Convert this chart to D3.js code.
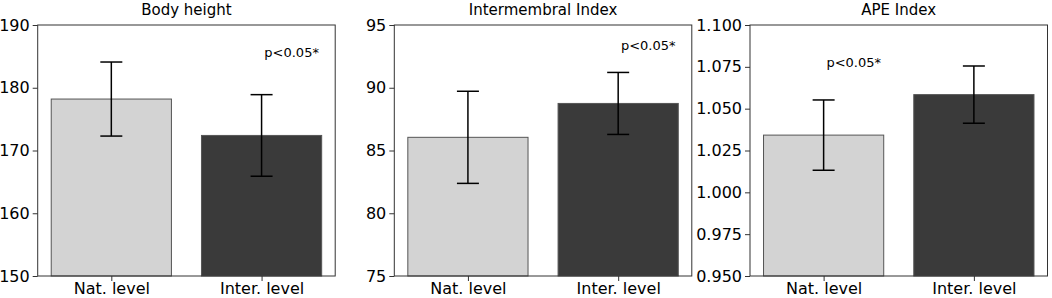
<!DOCTYPE html>
<html lang="en">
<head>
    <meta charset="UTF-8">
    <title> Level comparison </title>
    <script type="text/javascript" src="https://cdn.jsdelivr.net/npm/d3@7"></script>
    <style type="text/css">
        body { margin: 0; background: #fff; }
        text { font-family: "DejaVu Sans", sans-serif; }
    </style>
</head>
<body>
    <script type="text/javascript">
        //Data
        var categories = ["Nat. level", "Inter. level"];
        var titles = ["Body height", "Intermembral Index", "APE Index"];
        var means = [[178.2, 172.4], [86.05, 88.75], [1.0342, 1.0584]];
        var errors = [[5.9, 6.5], [3.67, 2.47], [0.021, 0.0171]];
        var yDomains = [[150, 190], [75, 95], [0.95, 1.1]];
        var yTicks = [
            [150, 160, 170, 180, 190],
            [75, 80, 85, 90, 95],
            [0.95, 0.975, 1.0, 1.025, 1.05, 1.075, 1.1]
        ];
        var tickFormats = ["d", "d", ".3f"];
        var pText = "p<0.05*";
        var pPos = [[1.2, 185.7], [1.2, 93.35], [0.2, 1.0775]];
        var barColors = ["#d3d3d3", "#3a3a3a"];

        //Width and height
        var w = 1052;
        var h = 298;
        var panelLeft = [37.7, 394.3, 750];
        var panelW = 297.5;
        var plotTop = 25;
        var plotBottom = 276;

        var svg = d3.select("body")
            .append("svg")
            .attr("width", w)
            .attr("height", h);

        titles.forEach(function(title, i) {
            var g = svg.append("g")
                .attr("transform", "translate(" + panelLeft[i] + ",0)");

            var xScale = d3.scaleLinear()
                .domain([-0.49, 1.49])
                .range([0, panelW]);

            var yScale = d3.scaleLinear()
                .domain(yDomains[i])
                .range([plotBottom, plotTop]);

            var barW = xScale(0.8) - xScale(0);

            //Bars
            g.selectAll("rect.bar")
                .data(means[i])
                .enter()
                .append("rect")
                .attr("class", "bar")
                .attr("x", function(d, j) { return xScale(j) - barW / 2; })
                .attr("y", function(d) { return yScale(d); })
                .attr("width", barW)
                .attr("height", function(d) { return plotBottom - yScale(d); })
                .attr("fill", function(d, j) { return barColors[j]; })
                .attr("stroke", "#555")
                .attr("stroke-width", 1);

            //Error bars
            var capW = 11;
            means[i].forEach(function(m, j) {
                var e = errors[i][j];
                var cx = xScale(j);
                g.append("line")
                    .attr("x1", cx).attr("x2", cx)
                    .attr("y1", yScale(m - e)).attr("y2", yScale(m + e))
                    .attr("stroke", "#000").attr("stroke-width", 1.5);
                [m - e, m + e].forEach(function(v) {
                    g.append("line")
                        .attr("x1", cx - capW).attr("x2", cx + capW)
                        .attr("y1", yScale(v)).attr("y2", yScale(v))
                        .attr("stroke", "#000").attr("stroke-width", 1.5);
                });
            });

            //Frame
            g.append("rect")
                .attr("x", 0).attr("y", plotTop)
                .attr("width", panelW).attr("height", plotBottom - plotTop)
                .attr("fill", "none")
                .attr("stroke", "#333")
                .attr("stroke-width", 1);

            //Y axis
            var yAxis = d3.axisLeft(yScale)
                .tickValues(yTicks[i])
                .tickFormat(d3.format(tickFormats[i]))
                .tickSize(5)
                .tickPadding(3);
            var ya = g.append("g").call(yAxis);
            ya.select(".domain").remove();
            ya.selectAll("line").attr("stroke", "#333");
            ya.selectAll("text")
                .attr("font-size", "16px")
                .attr("fill", "#000")
                .attr("font-family", "DejaVu Sans, sans-serif");

            //X axis
            var xAxis = d3.axisBottom(xScale)
                .tickValues([0, 1])
                .tickFormat(function(d) { return categories[d]; })
                .tickSize(5)
                .tickPadding(2);
            var xa = g.append("g")
                .attr("transform", "translate(0," + plotBottom + ")")
                .call(xAxis);
            xa.select(".domain").remove();
            xa.selectAll("line").attr("stroke", "#333");
            xa.selectAll("text")
                .attr("font-size", "16px")
                .attr("fill", "#000")
                .attr("font-family", "DejaVu Sans, sans-serif");

            //Title
            g.append("text")
                .attr("x", panelW / 2)
                .attr("y", 15)
                .attr("text-anchor", "middle")
                .attr("font-size", "15px")
                .attr("fill", "#000")
                .text(title);

            //Significance label
            g.append("text")
                .attr("x", xScale(pPos[i][0]))
                .attr("y", yScale(pPos[i][1]))
                .attr("dy", "0.35em")
                .attr("text-anchor", "middle")
                .attr("font-size", "13px")
                .attr("fill", "#000")
                .text(pText);
        });
    </script>
</body>
</html>
